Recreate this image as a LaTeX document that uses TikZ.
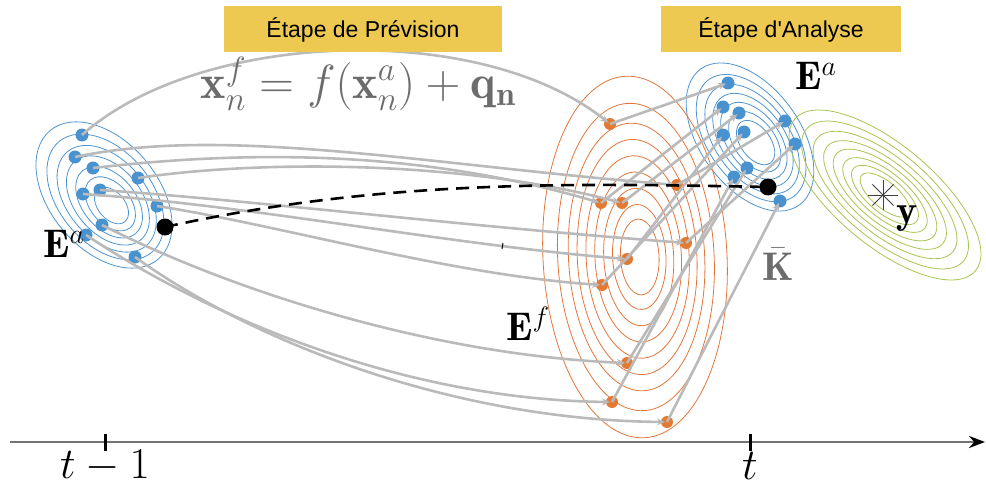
\RequirePackage{fix-cm}
\documentclass[tikz,border=0pt]{standalone}
\usepackage{fontspec}
\newfontfamily\boxfont{Liberation Sans}
\usetikzlibrary{arrows.meta}

\definecolor{ringblue}{RGB}{78,148,208}
\definecolor{dotblue}{RGB}{72,146,208}
\definecolor{ringorange}{RGB}{226,118,58}
\definecolor{dotorange}{RGB}{226,122,52}
\definecolor{ringgreen}{RGB}{168,196,80}
\definecolor{conngray}{RGB}{186,186,186}
\definecolor{textgray}{RGB}{108,108,108}
\definecolor{boxgold}{RGB}{237,201,81}

\tikzset{
  bring/.style={draw=ringblue,line width=.8pt},
  oring/.style={draw=ringorange,line width=.8pt},
  gring/.style={draw=ringgreen,line width=.8pt},
  bdot/.style={circle,fill=dotblue,minimum size=13pt,inner sep=0pt},
  odot/.style={circle,fill=dotorange,minimum size=12pt,inner sep=0pt},
  kdot/.style={circle,fill=black,minimum size=17pt,inner sep=0pt},
  conn/.style={draw=conngray,line width=2.6pt,shorten >=2pt,
    -{Stealth[length=8pt,width=7pt]}},
  meanline/.style={draw=black,line width=2.6pt,dash pattern=on 13pt off 8pt},
  stepbox/.style={fill=boxgold,minimum width=#1,minimum height=46pt,
    inner sep=0pt,font=\boxfont\fontsize{23}{27}\selectfont},
  lab/.style={inner sep=0pt,font=\fontsize{40}{46}\selectfont},
}

\begin{document}
\begin{tikzpicture}[x=1pt,y=-1pt,line width=.5pt]
\useasboundingbox (0,0) rectangle (986,487);

% contours
\foreach \s in {1,0.86,0.73,0.61,0.49,0.37,0.25} {
  \pgfmathsetmacro\cx{104+10*(1-\s)}
  \pgfmathsetmacro\cy{195+14*(1-\s)}
  \draw[bring,rotate around={-50:(\cx,\cy)}] (\cx,\cy) ellipse[x radius=84*\s,y radius=54*\s];
}
\foreach \s in {1,0.86,0.74,0.63,0.52,0.41,0.3} {
  \pgfmathsetmacro\cx{750+8*(1-\s)}
  \pgfmathsetmacro\cy{137+8*(1-\s)}
  \draw[bring,rotate around={-54:(\cx,\cy)}] (\cx,\cy) ellipse[x radius=84*\s,y radius=50*\s];
}
\foreach \s in {1,0.85,0.74,0.65,0.56,0.47,0.38,0.29,0.21} {
  \pgfmathsetmacro\cx{635+6*(1-\s)}
  \draw[oring,rotate around={3:(\cx,257)}] (\cx,257) ellipse[x radius=92*\s,y radius=181*\s];
}
\foreach \s in {1,0.87,0.75,0.64,0.54,0.44,0.35,0.26} {
  \draw[gring,rotate around={-40:(885,195)}] (885,195) ellipse[x radius=118*\s,y radius=50*\s];
}

% ensemble members
\node[bdot] (L1) at (82,135) {};
\node[bdot] (L2) at (75,157) {};
\node[bdot] (L3) at (93,168) {};
\node[bdot] (L4) at (138,178) {};
\node[bdot] (L5) at (100,190) {};
\node[bdot] (L6) at (83,194) {};
\node[bdot] (L7) at (157,206) {};
\node[bdot] (L8) at (102,225) {};
\node[bdot] (L9) at (86,235) {};
\node[bdot] (L10) at (135,257) {};

\node[odot] (O1) at (610,124) {};
\node[odot] (O2) at (601,203) {};
\node[odot] (O3) at (622,203) {};
\node[odot] (O4) at (677,185) {};
\node[odot] (O5) at (686,243) {};
\node[odot] (O6) at (627,259) {};
\node[odot] (O7) at (602,285) {};
\node[odot] (O8) at (627,363) {};
\node[odot] (O9) at (612,402) {};
\node[odot] (O10) at (667,422) {};

\node[bdot] (R1) at (728,83) {};
\node[bdot] (R2) at (723,107) {};
\node[bdot] (R3) at (739,113) {};
\node[bdot] (R4) at (785,121) {};
\node[bdot] (R5) at (723,135) {};
\node[bdot] (R6) at (744,132) {};
\node[bdot] (R7) at (795,144) {};
\node[bdot] (R8) at (747,168) {};
\node[bdot] (R9) at (734,177) {};
\node[bdot] (R10) at (780,201) {};

% forecast step
\draw[conn] (L1.center) .. controls (200,30) and (480,20) .. (O1.center);
\draw[conn] (L2.center) .. controls (225,125) and (427,165) .. (O4.center);
\draw[conn] (L3.center) .. controls (250,150) and (420,150) .. (O2.center);
\draw[conn] (L4.center) .. controls (260,160) and (460,160) .. (O3.center);
\draw[conn] (L5.center) .. controls (250,200) and (450,225) .. (O5.center);
\draw[conn] (L6.center) .. controls (250,205) and (450,245) .. (O6.center);
\draw[conn] (L7.center) .. controls (280,225) and (450,275) .. (O7.center);
\draw[conn] (L8.center) .. controls (230,290) and (430,355) .. (O8.center);
\draw[conn] (L9.center) .. controls (230,330) and (420,400) .. (O9.center);
\draw[conn] (L10.center) .. controls (250,340) and (450,420) .. (O10.center);

% analysis step
\draw[conn] (O1.center) -- (R1.center);
\draw[conn] (O2.center) -- (R2.center);
\draw[conn] (O3.center) -- (R3.center);
\draw[conn] (O4.center) -- (R4.center);
\draw[conn] (O5.center) -- (R7.center);
\draw[conn] (O6.center) -- (R5.center);
\draw[conn] (O7.center) -- (R6.center);
\draw[conn] (O8.center) -- (R8.center);
\draw[conn] (O9.center) -- (R9.center);
\draw[conn] (O10.center) -- (R10.center);

% ensemble means
\node[kdot] (K1) at (165,227) {};
\node[kdot] (K2) at (768,187) {};
\draw[meanline] (K1.center) .. controls (380,180) and (560,183) .. (K2.center);
\draw[line width=1pt] (503,243) -- (502,249);

% observation
\coordinate (obs) at (883,195);
\foreach \a in {0,45,90,135}
  \draw[line width=.8pt,black!75] ([shift={(\a:15)}]obs) -- ([shift={(\a+180:15)}]obs);

% labels
\node[stepbox=278pt] (prev) at (363,29.5) {Étape de Prévision};
\node[stepbox=240pt] (anal) at (781,29.5) {Étape d'Analyse};
\node[inner sep=0pt,text=textgray,font=\fontsize{48}{58}\selectfont] (model) at (358,84)
  {$\mathbf{x}_n^f=f(\mathbf{x}_n^a)+\mathbf{q_n}$};
\node[lab] (Eal) at (64,244) {$\mathbf{E}^a$};
\node[lab] (Ear) at (816,76) {$\mathbf{E}^a$};
\node[lab] (Ef) at (528,324) {$\mathbf{E}^f$};
\node[lab,text=textgray] (gain) at (778,264) {$\bar{\mathbf{K}}$};
\node[lab] (ylab) at (907,219) {$\mathbf{y}$};

% time axis
\coordinate (ax0) at (10,442);
\coordinate (ax1) at (985,442);
\draw[line width=2.6pt,black!55,-{Stealth[length=16pt,width=12pt,black]}] (ax0) -- (ax1);
\draw[line width=3pt] (105,434) -- (105,451);
\draw[line width=3pt] (750,434) -- (750,451);
\node[lab,font=\fontsize{44}{50}\selectfont] (tm1) at (105,466) {$t-1$};
\node[lab,font=\fontsize{44}{50}\selectfont] (tt) at (750,466) {$t$};
\end{tikzpicture}
\end{document}
